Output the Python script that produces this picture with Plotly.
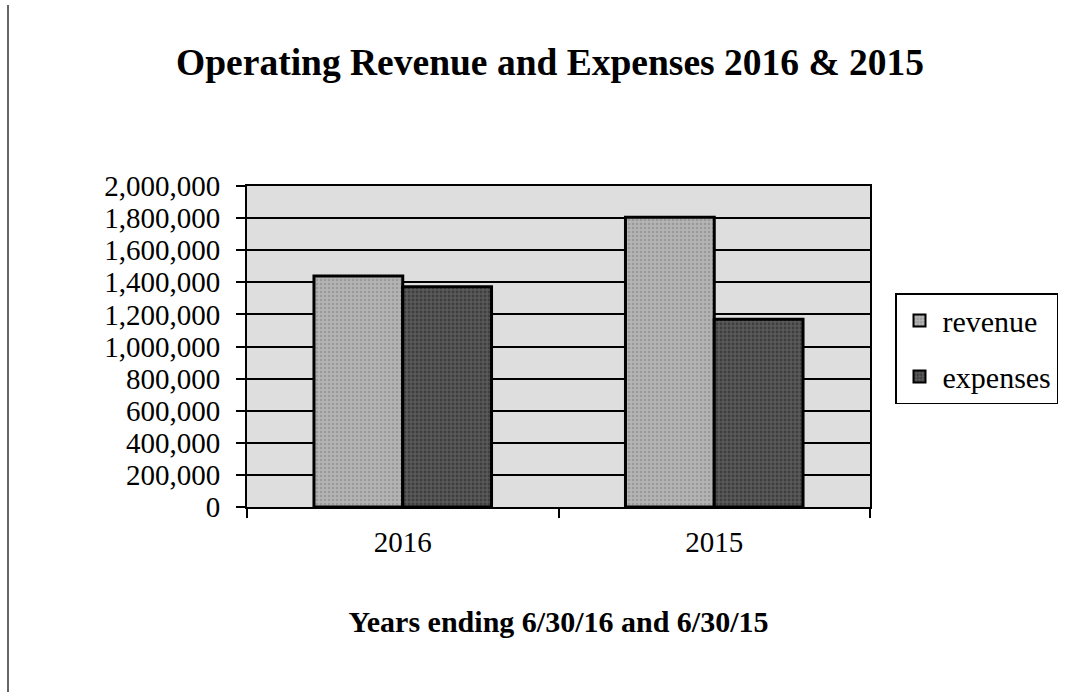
import plotly.graph_objects as go

categories = ["2016", "2015"]
revenue = [1440000, 1805000]
expenses = [1372000, 1170000]
y_ticks = [0, 200000, 400000, 600000, 800000, 1000000, 1200000, 1400000, 1600000, 1800000, 2000000]
y_tick_labels = [f"{v:,}" for v in y_ticks]

title_text = "Operating Revenue and Expenses 2016 & 2015"
x_title = "Years ending 6/30/16 and 6/30/15"

FONT = "Liberation Serif, Times New Roman, serif"

fig = go.Figure()
fig.add_trace(go.Bar(
    name="revenue", x=categories, y=revenue, legendgroup="revenue",
    marker=dict(color="#acacac", line=dict(color="black", width=3),
                pattern=dict(shape=".", fgcolor="#7e7e7e", bgcolor="#b4b4b4", size=4, solidity=0.35)),
))
fig.add_trace(go.Bar(
    name="expenses", x=categories, y=expenses, legendgroup="expenses",
    marker=dict(color="#474747", line=dict(color="black", width=3),
                pattern=dict(shape=".", fgcolor="#222222", bgcolor="#5a5a5a", size=4, solidity=0.4)),
))

fig.update_layout(
    width=1066, height=692,
    margin=dict(l=247, r=196, t=186, b=185),
    paper_bgcolor="white",
    plot_bgcolor="#dedede",
    barmode="group",
    bargap=0.43,
    bargroupgap=0,
    font=dict(family=FONT, color="black", size=29),
    title=dict(text=title_text, font=dict(family=FONT, size=37.5, color="black", weight="bold"),
               x=0.516, xref="container", xanchor="center",
               y=1 - 62 / 692, yref="container", yanchor="middle"),
    legend=dict(
        x=895 / 1066, xref="container", xanchor="left",
        y=1 - 293 / 692, yref="container", yanchor="top",
        bordercolor="black", borderwidth=1.5, bgcolor="white",
        font=dict(family=FONT, size=30, color="black"),
        itemsizing="constant", traceorder="grouped", tracegroupgap=14,
        itemwidth=36,
    ),
    showlegend=True,
)

fig.update_xaxes(
    type="category",
    showline=True, linecolor="black", linewidth=2, mirror=True,
    ticks="outside", ticklen=9, tickcolor="black", tickwidth=2,
    tickson="boundaries",
    tickfont=dict(family=FONT, size=29, color="black"),
    ticklabelstandoff=8,
    title=dict(text=x_title, font=dict(family=FONT, size=30, color="black", weight="bold"), standoff=54),
    showgrid=False,
)
fig.update_yaxes(
    range=[0, 2000000],
    tickvals=y_ticks, ticktext=y_tick_labels,
    showline=True, linecolor="black", linewidth=2, mirror=True,
    ticks="outside", ticklen=9, tickcolor="black", tickwidth=2,
    tickfont=dict(family=FONT, size=29, color="black"),
    ticklabelstandoff=10,
    showgrid=True, gridcolor="black", gridwidth=2,
    zeroline=False,
)

# page border line on the left edge
fig.add_shape(type="line", xref="paper", yref="paper",
              x0=-(247 - 8) / 623, x1=-(247 - 8) / 623, y0=1 + (186 - 5) / 321, y1=-(185) / 321,
              line=dict(color="#333333", width=1.5))

fig.write_html("out.html")
